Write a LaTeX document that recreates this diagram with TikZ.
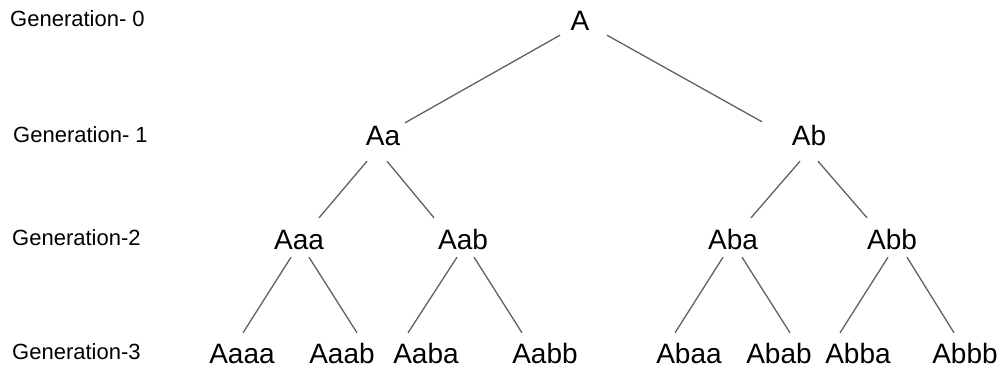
\documentclass[tikz,border=0pt]{standalone}
\usepackage{fontspec}
\setmainfont{Liberation Sans}
\usetikzlibrary{calc}
\begin{document}
\begin{tikzpicture}[x=1pt,y=-1pt,
  genlabel/.style={anchor=base west,inner sep=0pt,font=\fontsize{22}{26}\selectfont},
  tnode/.style={anchor=base,inner sep=0pt,text height=20pt,text depth=0pt,font=\fontsize{28}{32}\selectfont},
  edge/.style={draw=black!62,line width=1.3pt}]
\useasboundingbox[fill=white] (0,0) rectangle (1006,370);
% generation labels
\node[genlabel] (g0) at (10,26) {Generation- 0};
\node[genlabel] (g1) at (13,142) {Generation- 1};
\node[genlabel] (g2) at (12,245) {Generation-2};
\node[genlabel] (g3) at (12,359) {Generation-3};
% tree nodes
\node[tnode] (A) at (580,30) {A};
\node[tnode] (Aa) at (383,145) {Aa};
\node[tnode] (Ab) at (809,145) {Ab};
\node[tnode] (Aaa) at (299,249) {Aaa};
\node[tnode] (Aab) at (463,249) {Aab};
\node[tnode] (Aba) at (733,249) {Aba};
\node[tnode] (Abb) at (892,249) {Abb};
\node[tnode] (Aaaa) at (242,363) {Aaaa};
\node[tnode] (Aaab) at (342,363) {Aaab};
\node[tnode] (Aaba) at (426,363) {Aaba};
\node[tnode] (Aabb) at (545,363) {Aabb};
\node[tnode] (Abaa) at (689,363) {Abaa};
\node[tnode] (Abab) at (779,363) {Abab};
\node[tnode] (Abba) at (858,363) {Abba};
\node[tnode] (Abbb) at (965,363) {Abbb};
% connectors
\path[edge] ($(A.south)+(-20,5)$) -- ($(Aa.north)+(22,-2)$);
\path[edge] ($(A.south)+(27,5)$) -- ($(Ab.north)+(-47,-3)$);
\path[edge] ($(Aa.south)+(-16,16)$) -- ($(Aaa.north)+(20,-11)$);
\path[edge] ($(Aa.south)+(4,16)$) -- ($(Aab.north)+(-29,-11)$);
\path[edge] ($(Ab.south)+(-9,16)$) -- ($(Aba.north)+(18,-11)$);
\path[edge] ($(Ab.south)+(9,16)$) -- ($(Abb.north)+(-25,-11)$);
\path[edge] ($(Aaa.south)+(-8,8)$) -- ($(Aaaa.north)+(1,-10)$);
\path[edge] ($(Aaa.south)+(10,8)$) -- ($(Aaab.north)+(15,-10)$);
\path[edge] ($(Aab.south)+(-6,8)$) -- ($(Aaba.north)+(-18,-10)$);
\path[edge] ($(Aab.south)+(11,8)$) -- ($(Aabb.north)+(-23,-10)$);
\path[edge] ($(Aba.south)+(-10,8)$) -- ($(Abaa.north)+(-14,-10)$);
\path[edge] ($(Aba.south)+(9,8)$) -- ($(Abab.north)+(11,-10)$);
\path[edge] ($(Abb.south)+(-4,8)$) -- ($(Abba.north)+(-18,-10)$);
\path[edge] ($(Abb.south)+(15,8)$) -- ($(Abbb.north)+(-11,-10)$);
\end{tikzpicture}
\end{document}
